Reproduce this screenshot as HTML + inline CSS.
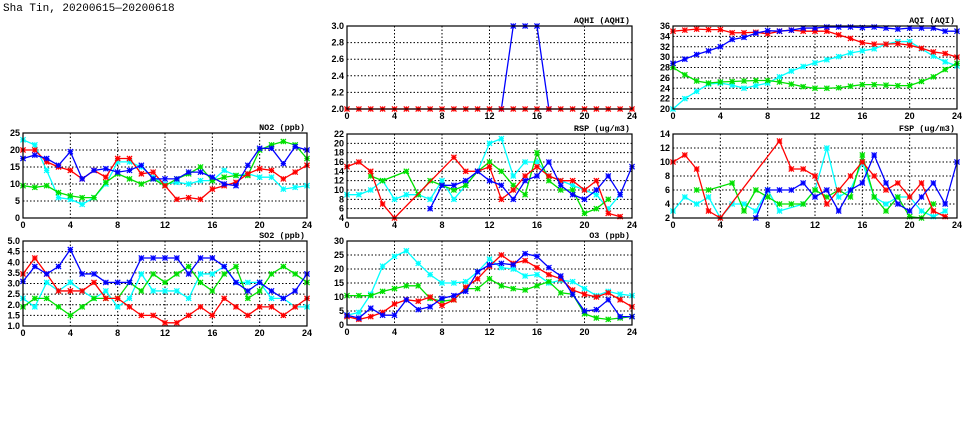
<!DOCTYPE html>
<html><head><meta charset="utf-8"><style>
html,body{margin:0;padding:0;background:#fff;width:975px;height:447px;overflow:hidden}
svg{display:block}
</style></head><body>
<svg id="s" width="975" height="447" xmlns="http://www.w3.org/2000/svg" font-family="Liberation Sans, sans-serif">
<text x="3" y="11" font-size="11" font-family="Liberation Mono, monospace">Sha Tin, 20200615—20200618</text>
</svg>
<script>
var S=document.getElementById('s'),NS='http://www.w3.org/2000/svg';
function el(t,a,txt){var e=document.createElementNS(NS,t);for(var k in a)e.setAttribute(k,a[k]);if(txt!=null)e.textContent=txt;S.appendChild(e);return e;}
var C={c:'#00ffff',g:'#00e000',r:'#ff0000',b:'#0000ff'};
function panel(p){
  var x0=p.x0,x1=p.x1,y0=p.y0,y1=p.y1;
  function X(h){return x0+(x1-x0)*h/24;}
  function Y(v){return y1-(y1-y0)*(v-p.min)/(p.max-p.min);}
  for(var h=0;h<=24;h+=4){
    if(h>0&&h<24)el('line',{x1:X(h),x2:X(h),y1:y0,y2:y1,stroke:'#000','stroke-width':1,'stroke-dasharray':'1.5,2'});
    el('text',{x:X(h),y:y1+10,'font-size':9,'font-weight':'bold','text-anchor':'middle'},String(h));
  }
  for(var i=0;i<p.ticks.length;i++){var v=p.ticks[i];
    if(i>0&&i<p.ticks.length-1)el('line',{x1:x0,x2:x1,y1:Y(v),y2:Y(v),stroke:'#000','stroke-width':1,'stroke-dasharray':'1.5,2'});
    el('text',{x:x0-3,y:Y(v)+3,'font-size':9,'font-weight':'bold','text-anchor':'end'},p.fmt?v.toFixed(1):String(v));
  }
  el('text',{x:x1-2,y:y0-3,'font-size':8.5,'font-weight':'bold','text-anchor':'end','font-family':'Liberation Mono, monospace'},p.title);
  (p.order||['c','g','r','b']).forEach(function(k){var d=p[k];if(!d)return;var pts=[];
    for(var h=0;h<d.length;h++)if(d[h]!=null)pts.push([X(h),Y(d[h])]);
    el('polyline',{points:pts.map(function(q){return q.join(',')}).join(' '),fill:'none',stroke:C[k],'stroke-width':1.3});
    pts.forEach(function(q){var s=2.6;
      el('path',{d:'M'+(q[0]-s)+' '+(q[1]-s)+'L'+(q[0]+s)+' '+(q[1]+s)+'M'+(q[0]-s)+' '+(q[1]+s)+'L'+(q[0]+s)+' '+(q[1]-s)+'M'+(q[0]-s)+' '+q[1]+'L'+(q[0]+s)+' '+q[1]+'M'+q[0]+' '+(q[1]-s)+'L'+q[0]+' '+(q[1]+s),stroke:C[k],'stroke-width':1.2});
    });
  });
  el('rect',{x:x0,y:y0,width:x1-x0,height:y1-y0,fill:'none',stroke:'#000','stroke-width':1.2});
}
var n=null;
function sp(o){var a=[];for(var i=0;i<=24;i++)a.push(o[i]!==undefined?o[i]:null);return a;}
panel({title:'NO2 (ppb)',x0:23,x1:307,y0:133,y1:218,min:0,max:25,ticks:[0,5,10,15,20,25],
 c:[23,21.5,14,6,5.5,4,6,10,16.5,16.5,15,12,10,10.5,10,11,11,14,12.5,13,12,12,8.5,9,9.5],
 g:[9.5,9,9.5,7.5,6.5,6,6,10.5,13,11.5,10,11.5,9.5,11.5,13,15,11,12,12.5,12.5,20,21.5,22.5,21.5,17.5],
 r:[20,20,16.5,15,14,11.5,14,12,17.5,17.5,13,13.5,9.5,5.5,6,5.5,8.5,9.5,10.5,13,14.5,14,11.5,13.5,15.5],
 b:[17.5,18.5,17.5,15.5,19.5,11.5,14,14.5,13.5,14,15.5,11.5,11.5,11.5,13.5,13.5,12,10,9.5,15.5,20.5,20.5,16,21,20]});
var two=[];for(var i=0;i<=24;i++)two.push(2);
panel({title:'AQHI (AQHI)',x0:347,x1:632,y0:26,y1:109,min:2,max:3,ticks:[2,2.2,2.4,2.6,2.8,3],fmt:1,order:['b','r'],
 b:sp({13:2,14:3,15:3,16:3,17:2}),r:two});
panel({title:'AQI (AQI)',x0:673,x1:957,y0:26,y1:109,min:20,max:36,ticks:[20,22,24,26,28,30,32,34,36],
 c:[20,22,23.4,24.8,25,24.6,24,24.5,25,26.2,27.3,28.2,28.9,29.5,30.1,30.8,31.2,31.6,32.5,33,33,31.6,30.2,29.1,28.3],
 g:[28,26.6,25.4,25,25.2,25.3,25.4,25.5,25.5,25.2,24.8,24.3,24,24,24.1,24.4,24.7,24.7,24.6,24.5,24.5,25.3,26.2,27.6,28.8],
 r:[35,35.2,35.4,35.3,35.3,34.7,34.7,34.8,34.5,35,35.2,35,35,35,34.3,33.6,32.8,32.5,32.5,32.6,32.3,31.7,31,30.7,30],
 b:[28.8,29.6,30.5,31.2,32,33.4,33.8,34.6,35.1,35,35.2,35.6,35.6,35.8,35.8,35.8,35.7,35.8,35.6,35.4,35.6,35.6,35.6,35,35]});
panel({title:'RSP (ug/m3)',x0:347,x1:632,y0:134,y1:218,min:4,max:22,ticks:[4,6,8,10,12,14,16,18,20,22],
 c:[9,9,10,12,8,9,9,8,12,8,11,14,20,21,13,16,16,13,12,11,10,9,6,9,n],
 g:sp({2:13,3:12,5:14,6:9,7:12,8:11,9:10,10:11,11:14,12:16,13:14,14:11,15:9,16:18,17:12,18:10,19:10,20:5,21:6,22:8}),
 r:sp({0:15,1:16,2:14,3:7,4:4,9:17,10:14,11:14,12:15,13:8,14:10,15:13,16:15,17:13,18:12,19:12,20:10,21:12,22:5,23:4.3}),
 b:sp({7:6,8:11,9:11,10:12,11:14,12:12,13:11,14:8,15:12,16:13,17:16,18:11,19:9,20:8,21:10,22:13,23:9,24:15})});
panel({title:'FSP (ug/m3)',x0:673,x1:957,y0:134,y1:218,min:2,max:14,ticks:[2,4,6,8,10,12,14],
 c:sp({0:3,1:5,2:4,3:5,4:2,5:4,6:4,7:3,8:6,9:3,11:4,12:6,13:12,14:5,15:6,16:10,17:5,18:4,19:5,20:5,21:3,22:2.2,23:3}),
 g:sp({2:6,3:6,5:7,6:3,7:6,8:5,9:4,10:4,11:4,12:6,13:5,14:6,15:5,16:11,17:5,18:3,19:5,20:2.2,21:2,22:4}),
 r:sp({0:10,1:11,2:9,3:3,4:2,9:13,10:9,11:9,12:8,13:4,14:6,15:8,16:10,17:8,18:6,19:7,20:5,21:7,22:3,23:2.2}),
 b:sp({7:2,8:6,9:6,10:6,11:7,12:5,13:6,14:3,15:6,16:7,17:11,18:7,19:4,20:3,21:5,22:7,23:4,24:10})});
panel({title:'SO2 (ppb)',x0:23,x1:307,y0:241,y1:326,min:1,max:5,ticks:[1,1.5,2,2.5,3,3.5,4,4.5,5],fmt:1,
 c:[2.3,1.9,3.05,2.65,3.05,2.65,2.3,2.65,1.9,2.3,3.45,2.65,2.65,2.65,2.3,3.45,3.45,3.8,3.05,3.05,3.05,2.3,2.3,1.9,1.9],
 g:[1.9,2.3,2.3,1.9,1.5,1.9,2.3,2.3,2.3,3.05,2.65,3.45,3.05,3.45,3.8,3.05,2.65,3.45,3.8,2.3,2.65,3.45,3.8,3.45,3.05],
 r:[3.45,4.2,3.45,2.65,2.65,2.65,3.05,2.3,2.3,1.9,1.5,1.5,1.15,1.15,1.5,1.9,1.5,2.3,1.9,1.5,1.9,1.9,1.5,1.9,2.3],
 b:[3.1,3.8,3.45,3.8,4.6,3.45,3.45,3.05,3.05,3.05,4.2,4.2,4.2,4.2,3.45,4.2,4.2,3.8,3.05,2.65,3.05,2.65,2.3,2.65,3.45]});
panel({title:'O3 (ppb)',x0:347,x1:632,y0:241,y1:325,min:0,max:30,ticks:[0,5,10,15,20,25,30],
 c:[3.5,4.5,11,21,24.5,26.5,22,18,15,15,15.5,19,23.5,20.5,20,17.5,18,15,16,15.5,13,10.5,12,11,10.5],
 g:[10.5,10.5,10.5,12,13,14,14,9.5,8.5,9,13,13,16.5,14,13,12.5,14,15.5,11.5,11,4,2.5,2,2.5,3],
 r:[3,2,3,4.5,7.5,9,8.5,10,7,9,13.5,16.5,21,25,22,23,20.5,18,16.5,12.5,11,10,11.5,9,6.5],
 b:[3.5,2.5,6,3.5,3.5,9,5.5,6.5,9.5,10.5,12,19,21.5,22,21.5,25.5,24.5,20.5,17.5,11,5,5.5,9,3,3]});
</script>
</body></html>
